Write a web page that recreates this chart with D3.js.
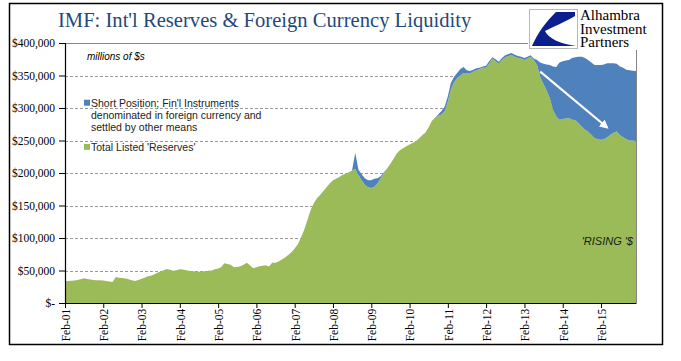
<!DOCTYPE html>
<html>
<head>
<meta charset="utf-8">
<script src="https://cdn.jsdelivr.net/npm/d3@7"></script>
<style>
  body { margin: 0; background: #fff; }
  svg { display: block; }
</style>
</head>
<body>
<svg id="chart"></svg>
<script>
// Chart size
const width = 681, height = 361;
const svg = d3.select("#chart").attr("width", width).attr("height", height);

// Monthly series, Feb-01 .. Jan-16, in thousands of millions of $
const reserves = [
  33.5, 33.8, 34.2, 34.5, 35.5, 36.5, 38, 37, 36, 35.5, 35, 35,
  34.5, 34, 33, 32.5, 40, 39, 38.5, 37.7, 36.5, 35, 34, 35.5,
  37.5, 39, 41, 42, 44, 46.5, 48.5, 50.5, 52.5, 51, 49.5, 50.5,
  52, 51.5, 50.5, 49.5, 49, 48.5, 48, 48.5, 49, 49.5, 50, 52,
  53, 55, 61, 60, 59, 55, 55.5, 56.7, 59, 62, 58, 53.6,
  55, 56.7, 57.5, 58, 56, 61.8, 62, 64, 67, 70, 74, 78,
  84, 90, 100, 112, 127, 142, 153, 161, 166, 172, 178, 184,
  189, 191, 194, 197, 199, 201, 204, 206, 197, 189, 182, 178,
  177, 179, 184, 192, 200, 207, 214, 222, 230, 235, 238, 241,
  244, 246, 249, 253, 258, 262, 270, 280, 285, 288, 290, 295,
  310, 328, 340, 346, 350, 354, 354, 353, 356, 358, 360, 362,
  362, 368, 376, 372, 368, 374, 378, 380, 381.5, 379, 377, 376,
  374, 376, 379, 374, 366, 348, 337, 327, 315, 297, 287, 282,
  283, 284, 284.6, 282, 281.5, 277, 271, 267, 263.5, 259, 254, 252,
  251, 252, 255, 259, 262, 264, 258, 255, 252, 250, 250, 249
];
const shortPosition = [
  0, 0, 0, 0, 0, 0, 0, 0, 0, 0, 0, 0,
  0, 0, 0, 0, 0, 0, 0, 0, 0, 0, 0, 0,
  0, 0, 0, 0, 0, 0, 0, 0, 0, 0, 0, 0,
  0, 0, 0, 0, 0, 0, 0, 0, 0, 0, 0, 0,
  0, 0, 0, 0, 0, 0, 0, 0, 0, 0, 0, 0,
  0, 0, 0, 0, 0, 0, 0, 0, 0, 0, 0, 0,
  0, 0, 0, 0, 0, 0, 0, 0, 0, 0, 0, 0,
  0, 0, 0, 0, 0, 0, 0, 25, 8, 9, 10, 11,
  12, 12, 8, 3, 1, 0, 0, 0, 0, 0, 0, 0,
  0, 0, 0, 0, 0, 0, 0, 0, 0, 2, 5, 7,
  8, 10, 8, 8, 10, 9, 4, 4, 3, 3, 2, 2,
  3, 4, 2, 3, 3, 3, 3, 3, 3, 3, 3, 3,
  3, 3, 2, 2, 8, 22, 31, 40, 51, 67, 76, 88,
  89, 89, 89.4, 95, 96.5, 102, 108, 110, 110.5, 111, 112, 114,
  115, 115, 114, 110, 107, 104, 106, 107, 107, 108, 107.5, 108
];

const xTickLabels = ["Feb-01", "Feb-02", "Feb-03", "Feb-04", "Feb-05", "Feb-06", "Feb-07",
  "Feb-08", "Feb-09", "Feb-10", "Feb-11", "Feb-12", "Feb-13", "Feb-14", "Feb-15"];
const yTicks = [0, 50, 100, 150, 200, 250, 300, 350, 400];
const seriesNames = ["Short Position; Fin'l Instruments|denominated in foreign currency and|settled by other means",
  "Total Listed 'Reserves'"];

// Arrow annotation (date, value) from -> to
const arrowFrom = [new Date(2013, 6, 1), 356];
const arrowTo = [new Date(2015, 3, 1), 270];

// Build the monthly table
const parseMonth = d3.timeParse("%b-%y");
const months = d3.timeMonth.range(new Date(2001, 1, 1), new Date(2016, 1, 1));
const table = months.map((d, i) => ({ date: d, reserves: reserves[i], short: shortPosition[i] }));

// Plot area
const plot = { left: 65, right: 636, top: 43, bottom: 303 };

const x = d3.scaleTime()
  .domain([months[0], months[months.length - 1]])
  .range([plot.left, plot.right]);
const y = d3.scaleLinear().domain([0, 400]).range([plot.bottom, plot.top]);

const green = "#9BBB59", blue = "#4F81BD";

// Outer frame
svg.append("rect")
  .attr("x", 9.5).attr("y", 3.5)
  .attr("width", 653).attr("height", 341)
  .attr("fill", "none").attr("stroke", "#000").attr("stroke-width", 1.5);

// Gridlines
svg.append("g")
  .selectAll("line")
  .data(yTicks.filter(d => d > 0 && d < 400))
  .join("line")
  .attr("x1", plot.left).attr("x2", plot.right)
  .attr("y1", d => Math.round(y(d)) + 0.5).attr("y2", d => Math.round(y(d)) + 0.5)
  .attr("stroke", "#9a9a9a").attr("stroke-width", 1)
  .attr("stroke-dasharray", "3,2");

// Stacked areas
const stack = d3.stack().keys(["reserves", "short"]);
const layers = stack(table);
const area = d3.area()
  .x(d => x(d.data.date))
  .y0(d => y(d[0]))
  .y1(d => y(d[1]));

svg.append("g")
  .selectAll("path")
  .data(layers)
  .join("path")
  .attr("d", area)
  .attr("fill", (d, i) => i === 0 ? green : blue);

// Plot area border (top and right)
svg.append("line")
  .attr("x1", plot.left).attr("x2", 528)
  .attr("y1", plot.top + 0.5).attr("y2", plot.top + 0.5)
  .attr("stroke", "#868686");
svg.append("line")
  .attr("x1", plot.right + 0.5).attr("x2", plot.right + 0.5)
  .attr("y1", 50).attr("y2", plot.bottom)
  .attr("stroke", "#868686");

// Y axis
const yAxis = svg.append("g")
  .attr("transform", `translate(${plot.left},0)`)
  .call(d3.axisLeft(y).tickValues(yTicks).tickSize(6).tickPadding(4)
    .tickFormat(d => d === 0 ? "$-" : "$" + d3.format(",")(d * 1000)));
yAxis.select(".domain").attr("stroke", "#000").attr("stroke-width", 1.2);
yAxis.selectAll("text")
  .attr("font-family", "Liberation Serif, serif")
  .attr("font-size", 11.5).attr("fill", "#000");

// X axis
const tickDates = xTickLabels.map(parseMonth);
const xAxis = svg.append("g")
  .attr("transform", `translate(0,${plot.bottom})`)
  .call(d3.axisBottom(x).tickValues(tickDates).tickSize(5).tickSizeOuter(0)
    .tickFormat((d, i) => xTickLabels[i]));
xAxis.select(".domain").attr("stroke", "#000").attr("stroke-width", 1.2);
xAxis.selectAll("text")
  .attr("font-family", "Liberation Serif, serif")
  .attr("font-size", 11.5).attr("fill", "#000")
  .attr("transform", "rotate(-90)")
  .attr("text-anchor", "end")
  .attr("dx", "-0.5em").attr("dy", "-0.2em")
  .attr("x", 0).attr("y", 4)
  .style("dominant-baseline", "middle");

// Title
svg.append("text")
  .attr("x", 58).attr("y", 27)
  .attr("font-family", "Liberation Serif, serif")
  .attr("font-size", 20.6)
  .attr("fill", "#1F497D")
  .text("IMF: Int'l Reserves & Foreign Currency Liquidity");

// Units note
svg.append("text")
  .attr("x", 87).attr("y", 60)
  .attr("font-family", "Liberation Sans, Arial, sans-serif")
  .attr("font-style", "italic")
  .attr("font-size", 10)
  .attr("fill", "#000")
  .text("millions of $s");

// Legend
const legend = svg.append("g").attr("font-family", "Liberation Sans, Arial, sans-serif")
  .attr("font-size", 10.5).attr("fill", "#222");
const legendRows = [
  { color: blue, y: y(302), lines: seriesNames[0].split("|") },
  { color: green, y: y(234), lines: seriesNames[1].split("|") }
];
legendRows.forEach(row => {
  legend.append("rect")
    .attr("x", 84).attr("y", row.y - 7)
    .attr("width", 6).attr("height", 6)
    .attr("fill", row.color);
  row.lines.forEach((line, i) => {
    legend.append("text")
      .attr("x", 91).attr("y", row.y + i * 12)
      .text(line);
  });
});

// Arrow annotation
svg.append("defs").append("marker")
  .attr("id", "head")
  .attr("viewBox", "0 0 10 10")
  .attr("refX", 8).attr("refY", 5)
  .attr("markerWidth", 4).attr("markerHeight", 4)
  .attr("orient", "auto")
  .append("path")
  .attr("d", "M0,0L10,5L0,10Z")
  .attr("fill", "#fff");
svg.append("line")
  .attr("x1", x(arrowFrom[0])).attr("y1", y(arrowFrom[1]))
  .attr("x2", x(arrowTo[0])).attr("y2", y(arrowTo[1]))
  .attr("stroke", "#fff").attr("stroke-width", 2.2)
  .attr("marker-end", "url(#head)");

// 'RISING '$ note
svg.append("text")
  .attr("x", 633).attr("y", 245)
  .attr("text-anchor", "end")
  .attr("font-family", "Liberation Sans, Arial, sans-serif")
  .attr("font-style", "italic")
  .attr("font-size", 11)
  .attr("fill", "#1a1a1a")
  .text("'RISING '$");

// Logo
const logo = svg.append("g");
logo.append("rect")
  .attr("x", 529.5).attr("y", 9.5)
  .attr("width", 48).attr("height", 39)
  .attr("fill", "#fff").attr("stroke", "#b8b8b8");
logo.append("path")
  .attr("d", "M575,12 L556,12 C546,22 538,32 532,46 L576,46 C560,44 548,38 545,31 C553,27 565,22 575,16 Z")
  .attr("fill", "#0B1F8F");
const logoText = ["Alhambra", "Investment", "Partners"];
logo.selectAll("text.logo")
  .data(logoText)
  .join("text")
  .attr("class", "logo")
  .attr("x", 580).attr("y", (d, i) => 20 + i * 13.5)
  .attr("font-family", "Liberation Serif, serif")
  .attr("font-size", 15)
  .attr("fill", "#000")
  .text(d => d);
</script>
</body>
</html>
